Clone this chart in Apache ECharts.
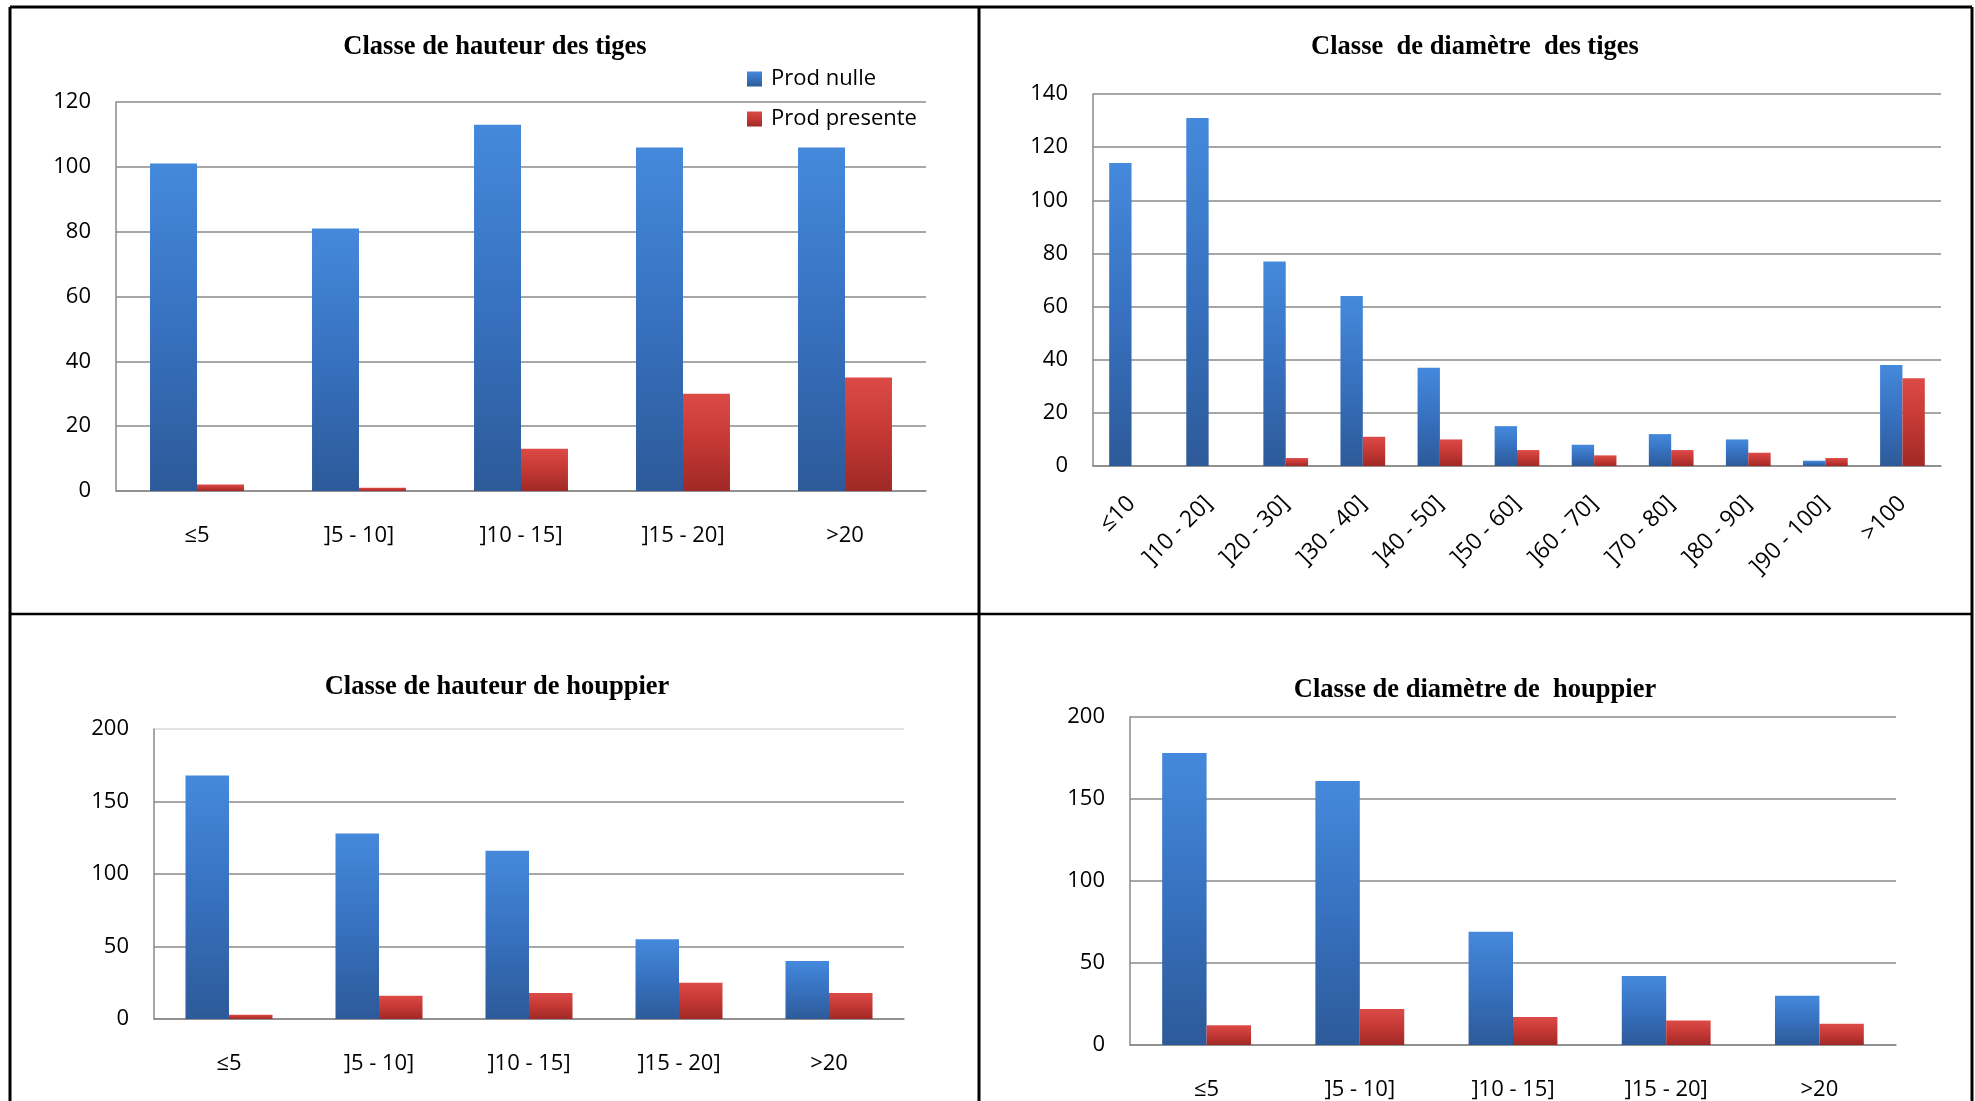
<!DOCTYPE html>
<html>
<head>
<meta charset="utf-8">
<script src="https://cdn.jsdelivr.net/npm/echarts@6/dist/echarts.min.js"></script>
<style>
html,body{margin:0;padding:0;background:#fff;}
#chart{width:1975px;height:1101px;}
</style>
</head>
<body>
<div id="chart"></div>
<script>
// ---- Data ----
const seriesNames = ['Prod nulle', 'Prod presente'];
const heightCats = ['≤5', ']5 - 10]', ']10 - 15]', ']15 - 20]', '>20'];
const diamCats = ['≤10', ']10 - 20]', ']20 - 30]', ']30 - 40]', ']40 - 50]', ']50 - 60]', ']60 - 70]', ']70 - 80]', ']80 - 90]', ']90 - 100]', '>100'];

const titles = ['Classe de hauteur des tiges', 'Classe  de diamètre  des tiges', 'Classe de hauteur de houppier', 'Classe de diamètre de  houppier'];

const tigesHautNulle = [101, 81, 113, 106, 106];
const tigesHautPresente = [2, 1, 13, 30, 35];
const tigesDiamNulle = [114, 131, 77, 64, 37, 15, 8, 12, 10, 2, 38];
const tigesDiamPresente = [0, 0, 3, 11, 10, 6, 4, 6, 5, 3, 33];
const houpHautNulle = [168, 128, 116, 55, 40];
const houpHautPresente = [3, 16, 18, 25, 18];
const houpDiamNulle = [178, 161, 69, 42, 30];
const houpDiamPresente = [12, 22, 17, 15, 13];

const yMax = [120, 140, 200, 200];
const yStep = [20, 20, 50, 50];

// ---- Styles ----
const blueFill = {type:'linear', x:0, y:0, x2:0, y2:1, colorStops:[
  {offset:0, color:'#4589DC'}, {offset:0.5, color:'#3771BF'}, {offset:1, color:'#2D5A99'}]};
const redFill = {type:'linear', x:0, y:0, x2:0, y2:1, colorStops:[
  {offset:0, color:'#DC4A46'}, {offset:0.5, color:'#C43834'}, {offset:1, color:'#A02926'}]};

const labelFont = {fontFamily:'Open Sans', fontSize:22, color:'#000'};
const gridColor = '#8a8a8a';

const grids = [
  {left:116, top:102, width:810, height:389},
  {left:1093, top:94, width:848, height:372},
  {left:154, top:729, width:750, height:290},
  {left:1130, top:717, width:766, height:330}
];
const titlePos = [
  {x:495, y:34}, {x:1475, y:34}, {x:497, y:674}, {x:1475, y:677}
];
const catsList = [heightCats, diamCats, heightCats, heightCats];
const dataList = [
  [tigesHautNulle, tigesHautPresente],
  [tigesDiamNulle, tigesDiamPresente],
  [houpHautNulle, houpHautPresente],
  [houpDiamNulle, houpDiamPresente]
];

const xAxes = [], yAxes = [], series = [], titleOpts = [];
for (let i = 0; i < 4; i++) {
  titleOpts.push({
    text: titles[i], left: titlePos[i].x, top: titlePos[i].y, textAlign: 'center', padding: 0,
    textStyle: {fontFamily:'Liberation Serif', fontWeight:'bold', fontSize:26.5, color:'#000'}
  });
  const xl = Object.assign({interval:0}, labelFont);
  if (i === 1) { xl.rotate = 45; xl.margin = 34; xl.fontSize = 23; } else { xl.margin = 34; }
  xAxes.push({
    type:'category', gridIndex:i, data: catsList[i],
    axisLine:{show:true, lineStyle:{color:gridColor, width:1.5}},
    axisTick:{show:false},
    axisLabel: xl
  });
  let splitColors = gridColor;
  if (i === 2) splitColors = [gridColor, gridColor, gridColor, gridColor, '#dadada'];
  yAxes.push({
    type:'value', gridIndex:i, min:0, max:yMax[i], interval:yStep[i],
    axisLine:{show:true, lineStyle:{color:gridColor, width:1.5}},
    axisTick:{show:false},
    splitLine:{show:true, lineStyle:{color:splitColors, width:1.5}},
    axisLabel: Object.assign({margin:25}, labelFont)
  });
  series.push({
    name: seriesNames[0], type:'bar', xAxisIndex:i, yAxisIndex:i, data: dataList[i][0],
    barGap:'0%', barCategoryGap:'42%',
    itemStyle:{color: blueFill}
  });
  series.push({
    name: seriesNames[1], type:'bar', xAxisIndex:i, yAxisIndex:i, data: dataList[i][1],
    barGap:'0%', barCategoryGap:'42%',
    itemStyle:{color: redFill}
  });
}

const borderLines = [
  [10, 7, 1972, 7, 3], [10, 7, 10, 1101, 3], [979, 7, 979, 1101, 3],
  [1972, 7, 1972, 1101, 3], [10, 614, 1972, 614, 2.5]
];

const option = {
  backgroundColor:'#fff',
  animation:false,
  title: titleOpts,
  legend: {
    data: seriesNames, orient:'vertical', left:742, top:63, itemGap:18,
    itemWidth:15, itemHeight:15, icon:'rect',
    textStyle:{fontFamily:'Open Sans', fontSize:22, color:'#000', padding:[0,0,0,4]}
  },
  grid: grids,
  xAxis: xAxes,
  yAxis: yAxes,
  series: series,
  graphic: borderLines.map(b => ({
    type:'line', silent:true, z:100,
    shape:{x1:b[0], y1:b[1], x2:b[2], y2:b[3]},
    style:{stroke:'#000', lineWidth:b[4]}
  }))
};

const chart = echarts.init(document.getElementById('chart'), null, {renderer:'canvas'});
chart.setOption(option);
</script>
</body>
</html>
